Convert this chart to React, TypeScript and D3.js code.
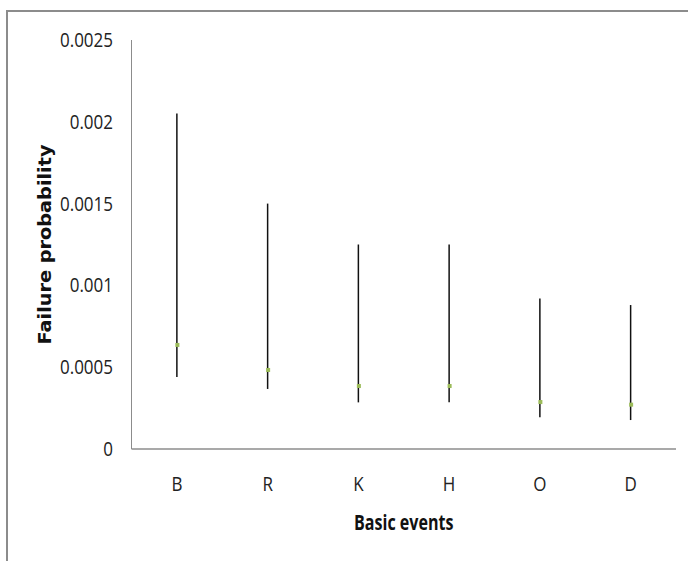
import React, { useEffect, useRef } from "react";
import * as d3 from "d3";

const categories = ["B", "R", "K", "H", "O", "D"];
const highValues = [0.00205, 0.0015, 0.00125, 0.00125, 0.00092, 0.00088];
const lowValues = [0.00044, 0.000367, 0.000285, 0.000285, 0.000194, 0.000177];
const meanValues = [0.000636, 0.000483, 0.000385, 0.000385, 0.000287, 0.000271];
const yTicks = [0, 0.0005, 0.001, 0.0015, 0.002, 0.0025];
const yTickLabels = ["0", "0.0005", "0.001", "0.0015", "0.002", "0.0025"];

const App = () => {
  const svgRef = useRef<SVGSVGElement>(null);

  useEffect(() => {
    document.body.style.margin = "0";
    const W = 688;
    const H = 561;
    const left = 131.5;
    const right = 676;
    const top = 40;
    const bottom = 449;

    const root = d3.select(svgRef.current).attr("width", W).attr("height", H);
    root.selectAll("*").remove();

    // outer chart border (only top and left visible in the frame)
    root
      .append("rect")
      .attr("x", 7)
      .attr("y", 11)
      .attr("width", W + 20)
      .attr("height", H + 20)
      .attr("fill", "white")
      .attr("stroke", "#8c8c8c")
      .attr("stroke-width", 2);

    const x = d3.scaleBand().domain(categories).range([left, right]);
    const y = d3.scaleLinear().domain([0, 0.0025]).range([bottom, top]);

    const data = categories.map((c, i) => ({
      cat: c,
      high: highValues[i],
      low: lowValues[i],
      mean: meanValues[i],
    }));

    const font = "'Open Sans', sans-serif";

    // axes lines
    root
      .append("line")
      .attr("x1", left)
      .attr("x2", left)
      .attr("y1", top)
      .attr("y2", bottom)
      .attr("stroke", "#8c8c8c")
      .attr("stroke-width", 1);

    root
      .append("line")
      .attr("x1", left)
      .attr("x2", right)
      .attr("y1", bottom)
      .attr("y2", bottom)
      .attr("stroke", "#8c8c8c")
      .attr("stroke-width", 1.5);

    // y tick labels (baseline = tick + half cap height)
    root
      .selectAll(".ytick")
      .data(yTicks)
      .enter()
      .append("text")
      .attr("class", "ytick")
      .attr("transform", (d) => `translate(113,${y(d) + 7}) scale(0.85,1)`)
      .attr("text-anchor", "end")
      .style("font-family", font)
      .style("font-size", "20px")
      .style("fill", "#222")
      .text((d, i) => yTickLabels[i]);

    // x tick labels
    root
      .selectAll(".xtick")
      .data(categories)
      .enter()
      .append("text")
      .attr("class", "xtick")
      .attr("transform", (d) => `translate(${x(d)! + x.bandwidth() / 2},491) scale(0.85,1)`)
      .attr("text-anchor", "middle")
      .style("font-family", font)
      .style("font-size", "20px")
      .style("fill", "#222")
      .text((d) => d);

    // high-low lines
    root
      .selectAll(".range")
      .data(data)
      .enter()
      .append("line")
      .attr("class", "range")
      .attr("x1", (d) => x(d.cat)! + x.bandwidth() / 2)
      .attr("x2", (d) => x(d.cat)! + x.bandwidth() / 2)
      .attr("y1", (d) => y(d.high))
      .attr("y2", (d) => y(d.low))
      .attr("stroke", "#111")
      .attr("stroke-width", 1.5);

    // mean markers
    root
      .selectAll(".mean")
      .data(data)
      .enter()
      .append("rect")
      .attr("class", "mean")
      .attr("x", (d) => x(d.cat)! + x.bandwidth() / 2 - 1.5)
      .attr("y", (d) => y(d.mean) - 2)
      .attr("width", 4)
      .attr("height", 4)
      .attr("fill", "#9bbb59");

    // axis titles
    root
      .append("text")
      .attr("transform", `translate(${(left + right) / 2},530) scale(0.73,1)`)
      .attr("text-anchor", "middle")
      .style("font-family", font)
      .style("font-weight", "bold")
      .style("font-size", "22px")
      .style("fill", "#111")
      .text("Basic events");

    root
      .append("text")
      .attr("transform", `translate(51,${(top + bottom) / 2}) rotate(-90)`)
      .attr("text-anchor", "middle")
      .attr("textLength", 200)
      .attr("lengthAdjust", "spacingAndGlyphs")
      .style("font-family", "'DejaVu Sans', sans-serif")
      .style("font-weight", "bold")
      .style("font-size", "17px")
      .style("fill", "#111")
      .text("Failure probability");
  }, []);

  return <svg ref={svgRef}></svg>;
};

export default App;
